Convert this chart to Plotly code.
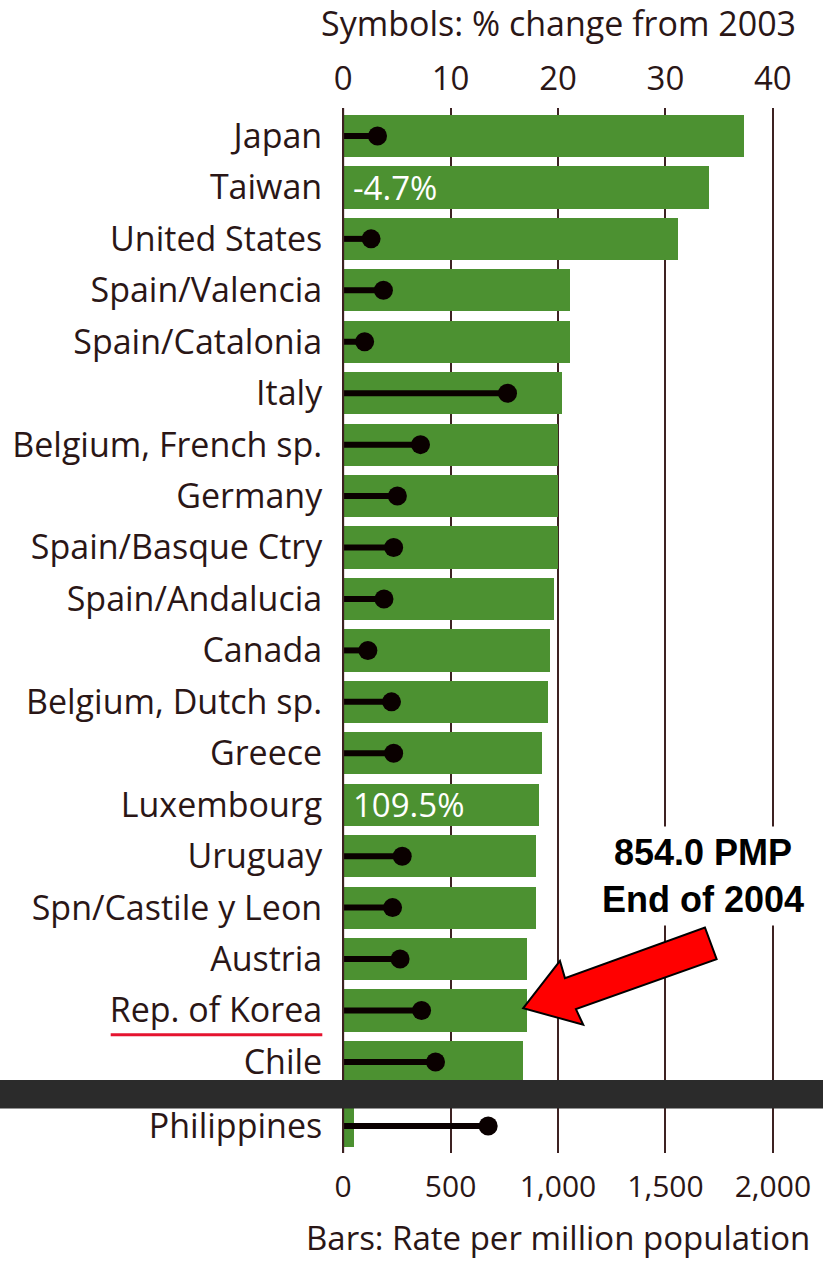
import plotly.graph_objects as go

# ---------------- data ----------------
countries = ["Japan", "Taiwan", "United States", "Spain/Valencia", "Spain/Catalonia",
             "Italy", "Belgium, French sp.", "Germany", "Spain/Basque Ctry",
             "Spain/Andalucia", "Canada", "Belgium, Dutch sp.", "Greece", "Luxembourg",
             "Uruguay", "Spn/Castile y Leon", "Austria", "Rep. of Korea", "Chile",
             "Philippines"]
rate_pmp = [1864, 1701, 1559, 1055, 1055, 1019, 999, 999, 999, 981, 962, 953, 925,
            913, 897, 897, 857, 854, 838, 51]
pct_change = [3.2, -4.7, 2.6, 3.75, 2.0, 15.3, 7.2, 5.05, 4.7, 3.8, 2.3, 4.5, 4.7,
              109.5, 5.5, 4.6, 5.3, 7.3, 8.6, 13.5]
bar_ticks = [0, 500, 1000, 1500, 2000]
bar_ticktext = ["0", "500", "1,000", "1,500", "2,000"]
pct_ticks = [0, 10, 20, 30, 40]
highlight = "Rep. of Korea"

# ---------------- style ----------------
FONT = "Open Sans"
TXT = "#2a1616"
GRID = "#3d2222"
GREEN = "#4c9131"
W, H = 823, 1261
ML, MR, MT, MB = 341, 48, 108, 108
XR = [-10, 2010]
XR2 = [-0.2, 40.2]
BREAK_GAP = 0.245  # extra gap before the last (broken-axis) row
n = len(countries)
pos = [i if i < n - 1 else i + BREAK_GAP for i in range(n)]
YR = [19.77, -0.544]

px_per_x = (W - ML - MR) / (XR[1] - XR[0])
px_per_y = (H - MT - MB) / (YR[0] - YR[1])

fig = go.Figure()

fig.add_trace(go.Bar(x=rate_pmp, y=pos, orientation="h", width=0.82,
                     marker=dict(color=GREEN, line=dict(width=0)),
                     xaxis="x", yaxis="y", showlegend=False, hoverinfo="skip"))

# lollipops for the on-scale % changes
lx, ly, mx, my = [], [], [], []
for p, v in zip(pos, pct_change):
    if 0 <= v <= 40:
        lx += [0, v, None]
        ly += [p, p, None]
        mx.append(v)
        my.append(p)
fig.add_trace(go.Scatter(x=lx, y=ly, mode="lines", line=dict(color="#0a0000", width=6),
                         xaxis="x2", yaxis="y", showlegend=False, hoverinfo="skip"))
fig.add_trace(go.Scatter(x=mx, y=my, mode="markers",
                         marker=dict(color="#0a0000", size=19),
                         xaxis="x2", yaxis="y", showlegend=False, hoverinfo="skip"))

annotations = []
# off-scale % changes written inside the bars
for p, v in zip(pos, pct_change):
    if not (0 <= v <= 40):
        annotations.append(dict(x=0, y=p, xref="x", yref="y", xanchor="left",
                                yanchor="middle", xshift=8, showarrow=False,
                                text=f"{v:.1f}%",
                                font=dict(family=FONT, size=33, color="white")))

annotations.append(dict(x=0.5, y=1.0818, xref="paper", yref="paper",
                        text="Symbols: % change from 2003", showarrow=False,
                        xanchor="center", yanchor="middle",
                        font=dict(family=FONT, size=34, color=TXT)))
annotations.append(dict(x=0.5, y=-0.0804, xref="paper", yref="paper",
                        text="Bars: Rate per million population", showarrow=False,
                        xanchor="center", yanchor="middle",
                        font=dict(family=FONT, size=33, color=TXT)))

k = countries.index(highlight)
annotations.append(dict(x=1673, y=14.38, xref="x", yref="y",
                        text=f"{rate_pmp[k]:.1f} PMP<br>End of 2004", showarrow=False,
                        xanchor="center", yanchor="middle", bgcolor="white",
                        borderpad=5,
                        font=dict(family="Liberation Sans, Arial", size=36,
                                  color="black", weight="bold")))

shapes = []
# zero line above the bars
shapes.append(dict(type="line", xref="x", yref="paper", x0=0, x1=0, y0=0, y1=1,
                   line=dict(color=GRID, width=2), layer="above"))
# arrow pointing at the highlighted bar end (pixel offsets from the tip)
arrow_px = [(0, 0), (36.7, -47.3), (41.7, -30), (181.7, -80.6), (193.4, -49),
            (52.7, 1), (60, 16.7)]
tip_x = rate_pmp[k] - 3.4 / px_per_x
tip_y = pos[k] - 2.4 / px_per_y
path = ""
for i, (dx, dy) in enumerate(arrow_px):
    path += ("M " if i == 0 else " L ") + f"{tip_x + dx / px_per_x:.3f},{tip_y + dy / px_per_y:.4f}"
path += " Z"
shapes.append(dict(type="path", xref="x", yref="y", path=path, fillcolor="#ff0000",
                   line=dict(color="black", width=2), layer="above"))
# red underline under highlighted label
x0p = (110.7 - ML) / (W - ML - MR)
x1p = (322.3 - ML) / (W - ML - MR)
shapes.append(dict(type="line", xref="paper", yref="y", x0=x0p, x1=x1p,
                   y0=pos[k] + 0.47, y1=pos[k] + 0.47,
                   line=dict(color="#e5132f", width=3), layer="above"))
# black axis-break band
shapes.append(dict(type="rect", xref="paper", yref="y", x0=-ML / (W - ML - MR) - 0.01,
                   x1=(W - ML) / (W - ML - MR) + 0.01,
                   y0=pos[n - 2] + 0.35, y1=pos[n - 2] + 0.905,
                   fillcolor="#2b2b2b", line=dict(width=0), layer="above"))

fig.update_layout(
    width=W, height=H,
    margin=dict(l=ML, r=MR, t=MT, b=MB),
    paper_bgcolor="white", plot_bgcolor="white",
    bargap=0,
    xaxis=dict(range=XR, tickvals=bar_ticks, ticktext=bar_ticktext,
               showgrid=True, gridcolor=GRID, gridwidth=2, zeroline=False,
               showline=False, ticks="outside", ticklen=7,
               tickcolor="rgba(0,0,0,0)",
               tickfont=dict(family=FONT, size=30, color=TXT)),
    xaxis2=dict(range=XR2, tickvals=pct_ticks, overlaying="x", side="top",
                showgrid=False, zeroline=False, showline=False,
                ticks="outside", ticklen=4, tickcolor="rgba(0,0,0,0)",
                tickfont=dict(family=FONT, size=33, color=TXT)),
    yaxis=dict(range=YR, tickvals=pos, ticktext=countries, showgrid=False,
               zeroline=False, showline=False, ticks="outside", ticklen=11,
               tickcolor="rgba(0,0,0,0)",
               tickfont=dict(family=FONT, size=34, color=TXT)),
    annotations=annotations,
    shapes=shapes,
)

fig.write_html("out.html",
               config={"displayModeBar": False},
               post_script="document.body.style.margin='0';"
                           "document.body.style.overflow='hidden';")
